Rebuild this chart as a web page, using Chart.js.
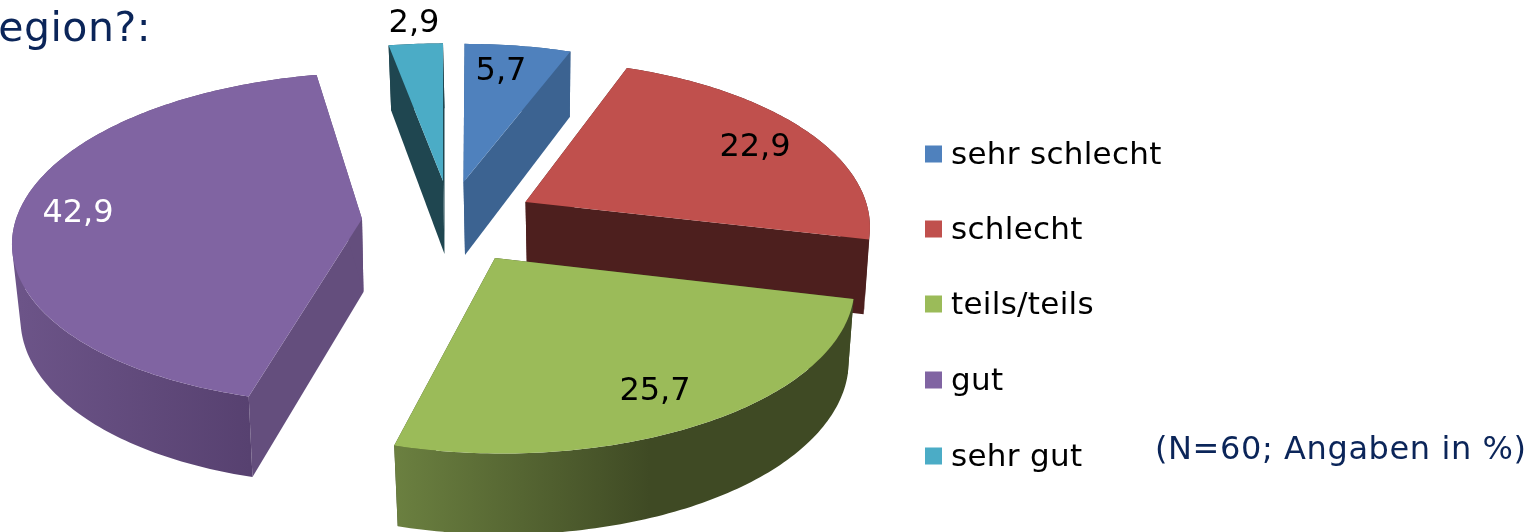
<!DOCTYPE html>
<html><head><meta charset="utf-8">
<style>html,body{margin:0;padding:0;background:#fff;overflow:hidden}canvas{display:block}</style>
<script src="https://cdn.jsdelivr.net/npm/chart.js@4"></script></head>
<body><canvas id="c" width="1538" height="532"></canvas>
<script>
const categories = ['sehr schlecht','schlecht','teils/teils','gut','sehr gut'];
const values = [5.7,22.9,25.7,42.9,2.9];
const colors = ['#4f81bd','#c0504d','#9bbb59','#8064a2','#4bacc6'];
const titleFragment = 'egion?:';
const sampleNote = '(N=60; Angaben in %)';

// presentation of the exploded 3D pie
const tips = [[463.5,182],[525.5,202],[495,258],[362,219],[443,181]];
// per-slice perspective correction of the rim: a,b,e / c,d,f
const rimFit = [[1,0,1,0,1,1],[1,0,-4.5,0,1.02,0],[1.011,0,6.7,0,1.02,3.5],[1.007,-0.049,2.65,-0.007,1.011,-5.8],[1,0,0,0,1,1.5]];
const labelPos = [[501,72],[755,148],[655,392],[78,214],[414,24]];
const labelColor = ['#000','#000','#000','#fff','#000'];
const wallColor = ['#3c6391','#4d1f1e','#3f4a24','#644e7d','#1f4650'];
const rimStops = [['#3c6391','#3c6391'],['#4d1f1e','#4d1f1e'],['#6b8040','#3f4a24'],['#6c5488','#574170'],['#1f4650','#1f4650']];
const rimRange = [[0,1],[0,1],[395,650],[20,250],[0,1]];
const drawOrder = [4,0,1,3,2];
const RX=345, RY=160, K=0.15;
const NAVY='#0b2559', FONT='"DejaVu Sans", Verdana, sans-serif';

function topPt(i,th,r){const u=Math.sin(th)*r,v=Math.cos(th)*r,d=1+K*v;
  const x=RX*u/d,y=-RY*v/d,m=rimFit[i];
  return [tips[i][0]+m[0]*x+m[1]*y+m[2]*r, tips[i][1]+m[3]*x+m[4]*y+m[5]*r, v];}
function botPt(i,th,r){const p=topPt(i,th,r);
  return [tips[i][0]+(p[0]-tips[i][0])*0.98+1.5, p[1]+73-8*p[2]];}
function sub(ctx,pts){pts.forEach((p,j)=>j?ctx.lineTo(p[0],p[1]):ctx.moveTo(p[0],p[1]));ctx.closePath();}
function poly(ctx,pts,fill){ctx.beginPath();sub(ctx,pts);ctx.fillStyle=fill;ctx.fill();}
function area(q){let s=0;q.forEach((p,j)=>{const n=q[(j+1)%q.length];s+=p[0]*n[1]-n[0]*p[1];});return s;}

const pie3d={id:'pie3d',
 beforeDatasetsDraw(chart){
  const ctx=chart.ctx, arcs=chart.getDatasetMeta(0).data;
  ctx.save();
  drawOrder.forEach(i=>{
    const a0=arcs[i].startAngle+Math.PI/2, a1=arcs[i].endAngle+Math.PI/2;
    const n=Math.max(8,Math.round((a1-a0)*60));
    const ths=[];for(let j=0;j<=n;j++)ths.push(a0+(a1-a0)*j/n);
    // cut walls
    poly(ctx,[topPt(i,a0,0),topPt(i,a0,1),botPt(i,a0,1),botPt(i,a0,0)],wallColor[i]);
    poly(ctx,[topPt(i,a1,0),topPt(i,a1,1),botPt(i,a1,1),botPt(i,a1,0)],wallColor[i]);
    // outer rim: all strips in one path with the same winding, so no seams or holes
    const g=ctx.createLinearGradient(rimRange[i][0],0,rimRange[i][1],0);
    g.addColorStop(0,rimStops[i][0]);g.addColorStop(1,rimStops[i][1]);
    ctx.beginPath();
    for(let j=0;j<n;j++){
      const q=[topPt(i,ths[j],1),topPt(i,ths[j+1],1),botPt(i,ths[j+1],1),botPt(i,ths[j],1)];
      sub(ctx,area(q)<0?q.reverse():q);
    }
    ctx.fillStyle=g;ctx.fill('nonzero');
    // top face
    poly(ctx,[topPt(i,a0,0)].concat(ths.map(t=>topPt(i,t,1))),colors[i]);
  });
  // value labels
  ctx.textAlign='center';ctx.textBaseline='middle';ctx.font='32px '+FONT;
  values.forEach((v,i)=>{ctx.fillStyle=labelColor[i];
    ctx.fillText(String(v).replace('.',','),labelPos[i][0],labelPos[i][1]);});
  // legend
  const rowY=[154,229,304,380,456];
  ctx.textAlign='left';ctx.font='31px '+FONT;ctx.letterSpacing='0.3px';
  categories.forEach((c,i)=>{ctx.fillStyle=colors[i];ctx.fillRect(925,rowY[i]-8.5,17,17);
    ctx.fillStyle='#000';ctx.fillText(c,951,rowY[i]+2);});
  // texts
  ctx.fillStyle=NAVY;ctx.font='32px '+FONT;ctx.letterSpacing='0.6px';ctx.fillText(sampleNote,1155,451);
  ctx.font='41px '+FONT;ctx.letterSpacing='0.5px';ctx.textBaseline='alphabetic';ctx.textAlign='right';ctx.fillText(titleFragment,151,41);
  ctx.restore();
  return false;
 }};

new Chart(document.getElementById('c'),{
 type:'pie',
 data:{labels:categories,datasets:[{data:values,backgroundColor:colors,borderWidth:0}]},
 options:{responsive:false,animation:false,rotation:0,
  plugins:{legend:{display:false},title:{display:false},tooltip:{enabled:false}}},
 plugins:[pie3d]
});
</script></body></html>
